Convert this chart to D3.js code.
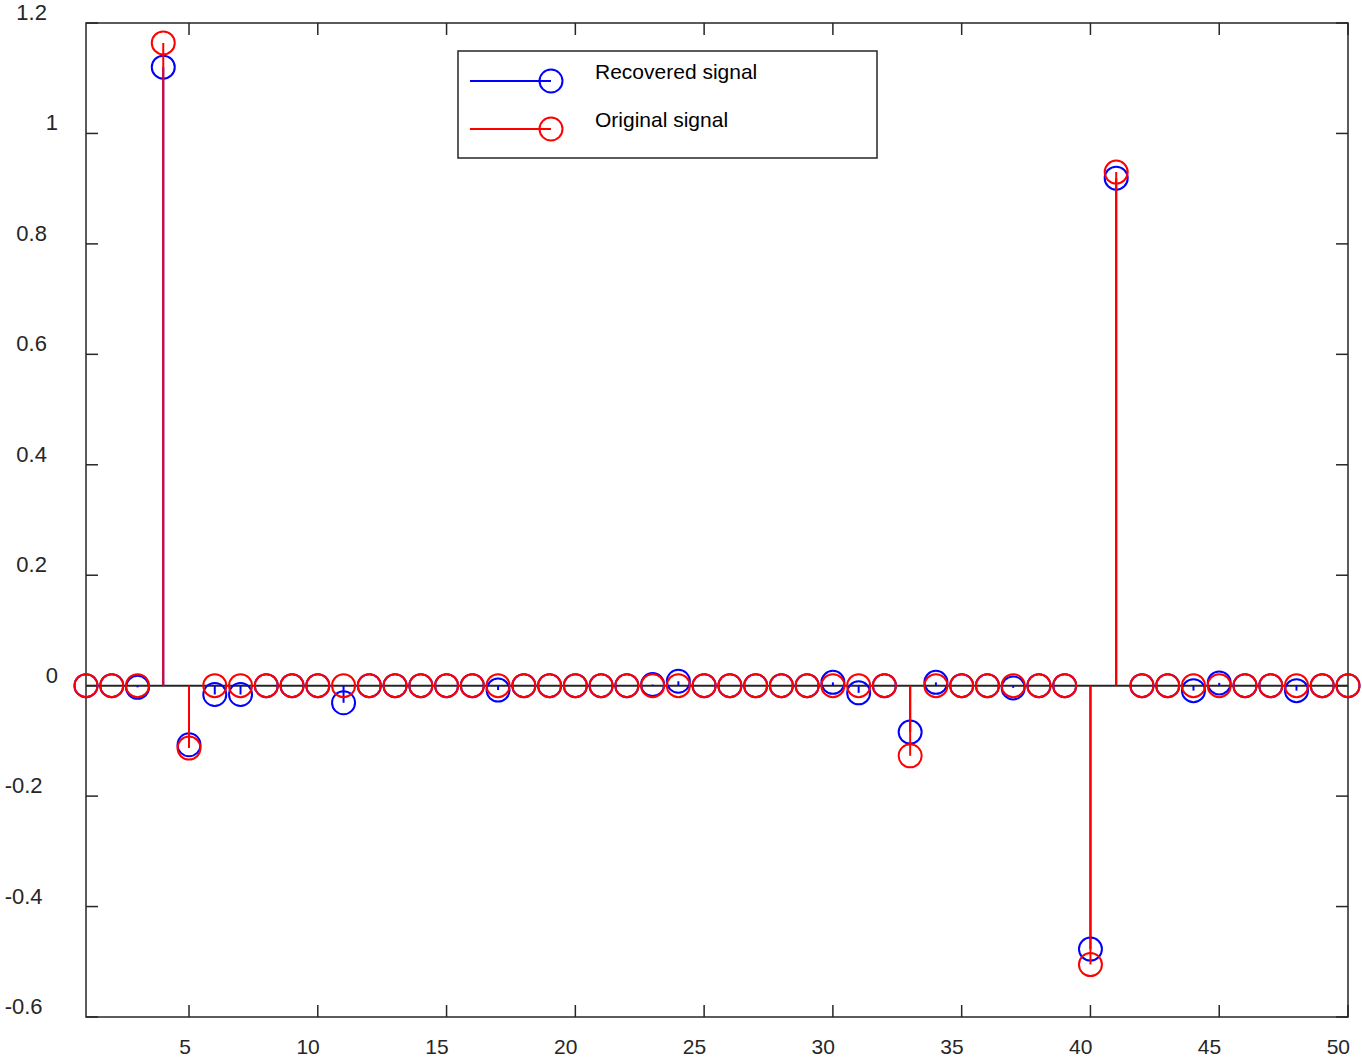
<!DOCTYPE html>
<html>
<head>
<meta charset="utf-8">
<script src="https://cdn.jsdelivr.net/npm/d3@7"></script>
<style>
    body { margin: 0; background: #fff; }
    text { font-family: "Liberation Sans", Arial, sans-serif; fill: #262626; }
</style>
</head>
<body>
<div id="chart"></div>
<script>
// sample index 1..50
let sampleIdx = d3.range(1, 51);

// recovered signal (blue)
let recovered = [0, 0, -0.003, 1.12, -0.107, -0.016, -0.016, 0, 0, 0,
    -0.031, 0, 0, 0, 0, 0, -0.008, 0, 0, 0,
    0, 0, 0.002, 0.008, 0, 0, 0, 0, 0, 0.006,
    -0.013, 0, -0.084, 0.006, 0, 0, -0.004, 0, 0, -0.477,
    0.919, 0, 0, -0.009, 0.005, 0, 0, -0.009, 0, 0];

// original signal (red)
let original = [0, 0, 0, 1.164, -0.113, 0, 0, 0, 0, 0,
    0, 0, 0, 0, 0, 0, 0, 0, 0, 0,
    0, 0, 0, 0, 0, 0, 0, 0, 0, 0,
    0, 0, -0.127, 0, 0, 0, 0, 0, 0, -0.505,
    0.93, 0, 0, 0, 0, 0, 0, 0, 0, 0];

let xTicks = [5, 10, 15, 20, 25, 30, 35, 40, 45, 50];
let yTicks = [-0.6, -0.4, -0.2, 0, 0.2, 0.4, 0.6, 0.8, 1, 1.2];

let seriesNames = ["Recovered signal", "Original signal"];
let seriesColors = ["#0000ff", "#ff0000"];

let W = 1362, H = 1062;
let plot = { left: 86, right: 1348, top: 23, bottom: 1017 };
let axisColor = "#262626";

let svg = d3.select("#chart").append("svg")
    .attr("width", W)
    .attr("height", H);

let x = d3.scaleLinear().domain([1, 50]).range([plot.left, plot.right]);
let y = d3.scaleLinear().domain([-0.6, 1.2]).range([plot.bottom, plot.top]);

// inward ticks on all four sides
let tickLen = 12;
let axes = svg.append("g").attr("class", "axes");

axes.append("rect")
    .attr("x", plot.left).attr("y", plot.top)
    .attr("width", plot.right - plot.left).attr("height", plot.bottom - plot.top)
    .attr("fill", "none").attr("stroke", axisColor).attr("stroke-width", 1.5);

xTicks.forEach(t => {
    axes.append("line")
        .attr("x1", x(t)).attr("x2", x(t))
        .attr("y1", plot.bottom).attr("y2", plot.bottom - tickLen)
        .attr("stroke", axisColor).attr("stroke-width", 1.5);
    axes.append("line")
        .attr("x1", x(t)).attr("x2", x(t))
        .attr("y1", plot.top).attr("y2", plot.top + tickLen)
        .attr("stroke", axisColor).attr("stroke-width", 1.5);
    axes.append("text")
        .attr("x", x(t) + 2)
        .attr("y", plot.bottom + 37)
        .attr("text-anchor", "end")
        .style("font-size", "21px")
        .text(t);
});

yTicks.forEach(t => {
    axes.append("line")
        .attr("x1", plot.left).attr("x2", plot.left + tickLen)
        .attr("y1", y(t)).attr("y2", y(t))
        .attr("stroke", axisColor).attr("stroke-width", 1.5);
    axes.append("line")
        .attr("x1", plot.right).attr("x2", plot.right - tickLen)
        .attr("y1", y(t)).attr("y2", y(t))
        .attr("stroke", axisColor).attr("stroke-width", 1.5);
    let lbl = axes.append("text")
        .attr("y", y(t) - 3)
        .attr("text-anchor", "start")
        .style("font-size", "22px")
        .text(String(t));
    // labels sit further left the wider they are
    let w = lbl.node().getComputedTextLength();
    lbl.attr("x", 65.3 - 1.6 * w);
});

// zero baseline
svg.append("line")
    .attr("x1", plot.left).attr("x2", plot.right)
    .attr("y1", y(0)).attr("y2", y(0))
    .attr("stroke", axisColor).attr("stroke-width", 2);

// stems + markers, recovered first then original on top
[recovered, original].forEach((vals, s) => {
    let g = svg.append("g").attr("class", "series-" + s);
    let pts = sampleIdx.map((k, i) => ({ k: k, v: vals[i] }));
    g.selectAll("line")
        .data(pts.filter(d => d.v !== 0))
        .enter().append("line")
        .attr("x1", d => x(d.k)).attr("x2", d => x(d.k))
        .attr("y1", y(0)).attr("y2", d => y(d.v))
        .attr("stroke", seriesColors[s]).attr("stroke-width", 2);
    g.selectAll("circle")
        .data(pts)
        .enter().append("circle")
        .attr("cx", d => x(d.k))
        .attr("cy", d => y(d.v))
        .attr("r", 11.5)
        .attr("fill", "none")
        .attr("stroke", seriesColors[s])
        .attr("stroke-width", 2);
});

// legend
let legend = svg.append("g").attr("class", "legend");
legend.append("rect")
    .attr("x", 458).attr("y", 51)
    .attr("width", 419).attr("height", 107)
    .attr("fill", "#fff").attr("stroke", axisColor).attr("stroke-width", 1.5);

seriesNames.forEach((name, i) => {
    let ly = 81 + i * 48;
    legend.append("line")
        .attr("x1", 470).attr("x2", 551)
        .attr("y1", ly).attr("y2", ly)
        .attr("stroke", seriesColors[i]).attr("stroke-width", 2);
    legend.append("circle")
        .attr("cx", 551).attr("cy", ly).attr("r", 11.5)
        .attr("fill", "none")
        .attr("stroke", seriesColors[i]).attr("stroke-width", 2);
    legend.append("text")
        .attr("x", 595).attr("y", ly - 2)
        .style("font-size", "21px")
        .style("fill", "#000")
        .text(name);
});
</script>
</body>
</html>
